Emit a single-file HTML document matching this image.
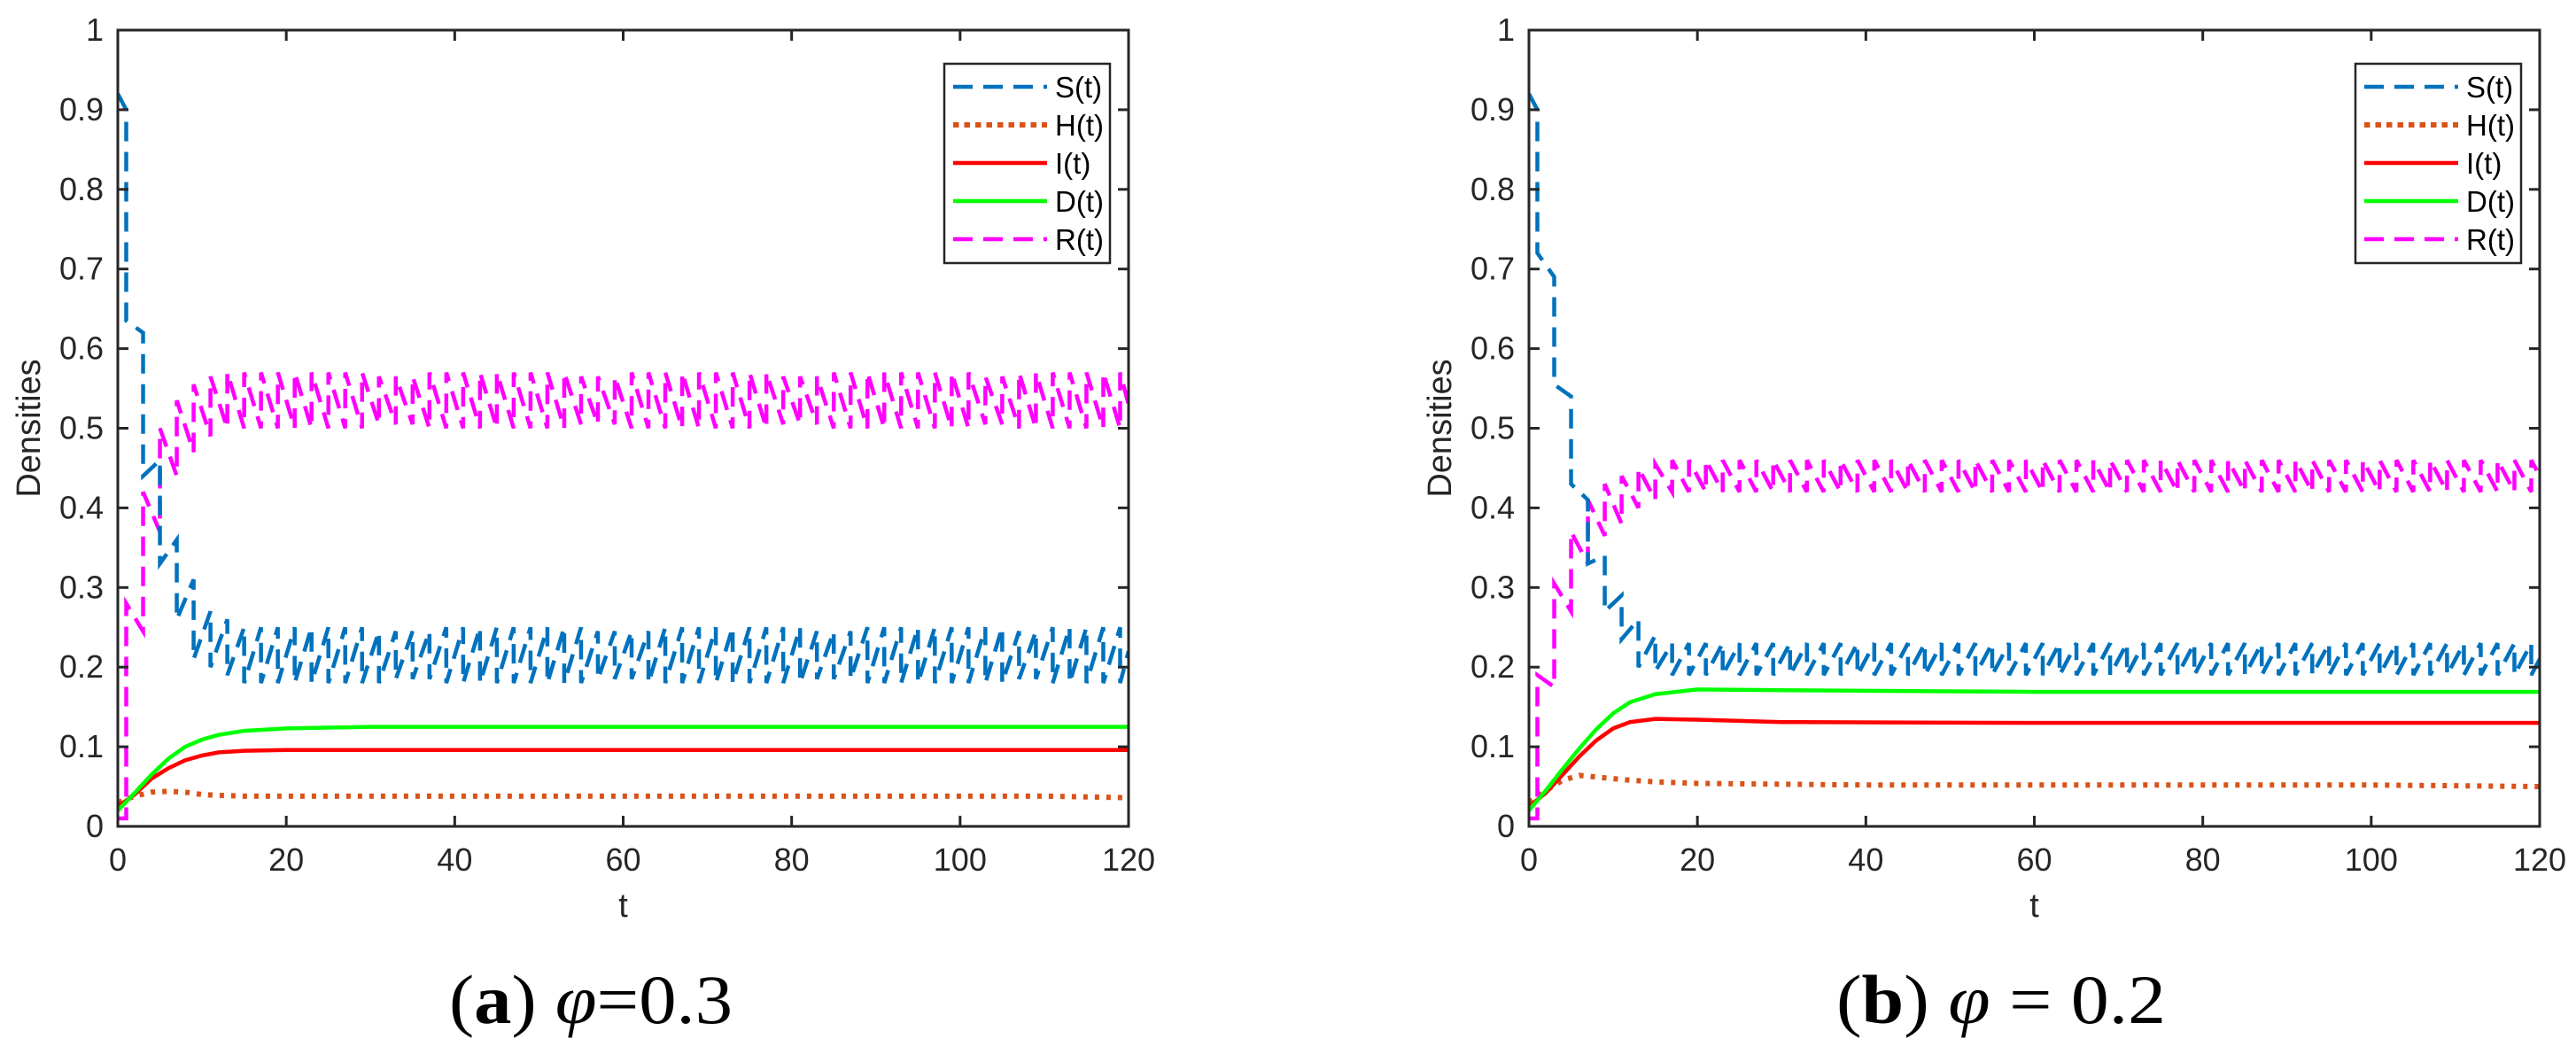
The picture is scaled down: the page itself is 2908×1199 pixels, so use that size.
<!DOCTYPE html>
<html><head><meta charset="utf-8"><style>
html,body{margin:0;padding:0;background:#fff;}
svg{display:block;}
</style></head><body>
<svg id="fig" xmlns="http://www.w3.org/2000/svg" width="2908" height="1199" viewBox="0 0 2908 1199">
<rect x="0" y="0" width="2908" height="1199" fill="#fff"/>
<g id="plotA"></g>
<g id="plotB"></g>
<text x="507" y="1155" font-family="Liberation Serif, serif" font-size="78" textLength="320" lengthAdjust="spacingAndGlyphs" fill="#000">(<tspan font-weight="bold">a</tspan>) <tspan font-style="italic">φ</tspan>=0.3</text>
<text x="2073" y="1155" font-family="Liberation Serif, serif" font-size="78" textLength="372" lengthAdjust="spacingAndGlyphs" fill="#000">(<tspan font-weight="bold">b</tspan>) <tspan font-style="italic">φ</tspan> = 0.2</text>
</svg>
<script>
// ---- shared ----
const impT = [1,3,5,7,9,11,13,15,17,19,21,23,25,27,29,31,33,35,37,39,41,43,45,47,49,51,53,55,57,59,61,63,65,67,69,71,73,75,77,79,81,83,85,87,89,91,93,95,97,99,101,103,105,107,109,111,113,115,117,119];
const xTicks = [0,20,40,60,80,100,120];
const yTicks = [0,0.1,0.2,0.3,0.4,0.5,0.6,0.7,0.8,0.9,1];
const yTickLabels = ["0","0.1","0.2","0.3","0.4","0.5","0.6","0.7","0.8","0.9","1"];
const legendLabels = ["S(t)","H(t)","I(t)","D(t)","R(t)"];

// ---- plot A (phi = 0.3) ----
const aS0 = 0.92, aSEnd = 0.22;
const aSPre = [0.90,0.62,0.46,0.36,0.31,0.27,0.26,0.25,0.25,0.25,
0.25,0.25,0.25,0.25,0.25,0.245,0.245,0.245,0.245,0.25,
0.25,0.25,0.25,0.25,0.25,0.25,0.25,0.25,0.245,0.245,
0.245,0.245,0.25,0.25,0.25,0.25,0.25,0.25,0.25,0.25,
0.25,0.245,0.245,0.245,0.25,0.25,0.25,0.25,0.25,0.25,
0.25,0.25,0.25,0.245,0.245,0.25,0.25,0.25,0.25,0.25];
const aSPost = [0.635,0.44,0.33,0.26,0.21,0.20,0.19,0.18,0.18,0.18,
0.18,0.18,0.18,0.18,0.18,0.18,0.185,0.185,0.185,0.18,
0.18,0.18,0.18,0.18,0.18,0.18,0.18,0.18,0.185,0.185,
0.185,0.18,0.18,0.18,0.18,0.18,0.18,0.18,0.18,0.18,
0.18,0.185,0.185,0.185,0.18,0.18,0.18,0.18,0.18,0.18,
0.18,0.18,0.18,0.185,0.185,0.18,0.18,0.18,0.18,0.18];
const aR0 = 0.01, aREnd = 0.53;
const aRPre = [0.01,0.245,0.37,0.44,0.47,0.49,0.50,0.50,0.50,0.50,
0.50,0.50,0.50,0.50,0.50,0.505,0.505,0.505,0.50,0.50,
0.50,0.50,0.50,0.50,0.50,0.50,0.50,0.505,0.505,0.505,
0.50,0.50,0.50,0.50,0.50,0.50,0.50,0.50,0.50,0.505,
0.505,0.505,0.50,0.50,0.50,0.50,0.50,0.50,0.50,0.50,
0.50,0.505,0.505,0.50,0.50,0.50,0.50,0.50,0.50,0.50];
const aRPost = [0.28,0.42,0.50,0.535,0.555,0.565,0.57,0.57,0.57,0.57,
0.57,0.57,0.57,0.57,0.57,0.565,0.565,0.565,0.57,0.57,
0.57,0.57,0.57,0.57,0.57,0.57,0.57,0.565,0.565,0.565,
0.57,0.57,0.57,0.57,0.57,0.57,0.57,0.57,0.57,0.565,
0.565,0.565,0.57,0.57,0.57,0.57,0.57,0.57,0.57,0.57,
0.57,0.565,0.565,0.57,0.57,0.57,0.57,0.57,0.57,0.57];
const aHT = [0,2,4,6,8,10,12,15,20,30,40,50,60,70,80,90,100,110,120];
const aHV = [0.030,0.038,0.043,0.044,0.043,0.040,0.039,0.038,0.038,0.038,0.038,0.038,0.038,0.038,0.038,0.038,0.038,0.038,0.036];
const aIT = [0,2,4,6,8,10,12,15,20,30,60,120];
const aIV = [0.025,0.040,0.060,0.073,0.083,0.089,0.093,0.095,0.096,0.096,0.096,0.096];
const aDT = [0,2,4,6,8,10,12,15,20,30,60,120];
const aDV = [0.020,0.042,0.065,0.085,0.100,0.109,0.115,0.120,0.123,0.125,0.125,0.125];

// ---- plot B (phi = 0.2) ----
const bS0 = 0.92, bSEnd = 0.21;
const bSPre = [0.90,0.69,0.54,0.41,0.34,0.29,0.26,0.24,0.23,0.23,
0.23,0.23,0.23,0.23,0.23,0.23,0.23,0.23,0.23,0.23,
0.23,0.23,0.23,0.23,0.23,0.23,0.23,0.23,0.23,0.23,
0.23,0.23,0.23,0.23,0.23,0.23,0.23,0.23,0.23,0.23,
0.23,0.23,0.23,0.23,0.23,0.23,0.23,0.23,0.23,0.23,
0.23,0.23,0.23,0.23,0.23,0.23,0.23,0.23,0.23,0.23];
const bSPost = [0.72,0.555,0.43,0.33,0.27,0.235,0.20,0.195,0.19,0.19,
0.19,0.19,0.19,0.19,0.19,0.19,0.19,0.19,0.19,0.19,
0.19,0.19,0.19,0.19,0.19,0.19,0.19,0.19,0.19,0.19,
0.19,0.19,0.19,0.19,0.19,0.19,0.19,0.19,0.19,0.19,
0.19,0.19,0.19,0.19,0.19,0.19,0.19,0.19,0.19,0.19,
0.19,0.19,0.19,0.19,0.19,0.19,0.19,0.19,0.19,0.19];
const bR0 = 0.01, bREnd = 0.44;
const bRPre = [0.01,0.175,0.27,0.33,0.365,0.38,0.40,0.41,0.42,0.42,
0.42,0.42,0.42,0.42,0.42,0.42,0.42,0.42,0.42,0.42,
0.42,0.42,0.42,0.42,0.42,0.42,0.42,0.42,0.42,0.42,
0.42,0.42,0.42,0.42,0.42,0.42,0.42,0.42,0.42,0.42,
0.42,0.42,0.42,0.42,0.42,0.42,0.42,0.42,0.42,0.42,
0.42,0.42,0.42,0.42,0.42,0.42,0.42,0.42,0.42,0.42];
const bRPost = [0.19,0.305,0.37,0.41,0.43,0.44,0.45,0.455,0.46,0.46,
0.46,0.46,0.46,0.46,0.46,0.46,0.46,0.46,0.46,0.46,
0.46,0.46,0.46,0.46,0.46,0.46,0.46,0.46,0.46,0.46,
0.46,0.46,0.46,0.46,0.46,0.46,0.46,0.46,0.46,0.46,
0.46,0.46,0.46,0.46,0.46,0.46,0.46,0.46,0.46,0.46,
0.46,0.46,0.46,0.46,0.46,0.46,0.46,0.46,0.46,0.46];
const bHT = [0,2,4,6,8,10,12,15,20,30,40,60,80,100,120];
const bHV = [0.030,0.045,0.058,0.064,0.062,0.060,0.058,0.056,0.054,0.053,0.052,0.052,0.052,0.052,0.050];
const bIT = [0,2,4,6,8,10,12,15,20,30,60,120];
const bIV = [0.025,0.042,0.065,0.088,0.108,0.123,0.131,0.135,0.134,0.131,0.130,0.130];
const bDT = [0,2,4,6,8,10,12,15,20,30,60,120];
const bDV = [0.020,0.045,0.072,0.098,0.122,0.142,0.156,0.166,0.172,0.171,0.169,0.169];

const NS = "http://www.w3.org/2000/svg";
function mk(tag, attrs, parent){
  const e = document.createElementNS(NS, tag);
  for (const k in attrs) e.setAttribute(k, attrs[k]);
  parent.appendChild(e);
  return e;
}

function impulsePath(sx, sy, v0, pre, post, vEnd){
  let d = "M" + sx(0) + "," + sy(v0);
  for (let i = 0; i < impT.length; i++){
    d += " L" + sx(impT[i]) + "," + sy(pre[i]);
    d += " L" + sx(impT[i]) + "," + sy(post[i]);
  }
  d += " L" + sx(120) + "," + sy(vEnd);
  return d;
}
function linePath(sx, sy, ts, vs){
  let d = "";
  for (let i = 0; i < ts.length; i++) d += (i ? " L" : "M") + sx(ts[i]) + "," + sy(vs[i]);
  return d;
}

const COL = {S:"#0072BD", H:"#D95319", I:"#FF0000", D:"#00FF00", R:"#FF00FF"};

function drawPlot(g, x0, d){
  const x1 = x0 + 1141, yTop = 34, yBot = 933;
  const sx = t => x0 + (t / 120) * (x1 - x0);
  const sy = v => yBot - v * (yBot - yTop);
  const font = "Liberation Sans, sans-serif";

  const clipId = "clip" + x0;
  const defs = mk("defs", {}, g);
  const cp = mk("clipPath", {id: clipId}, defs);
  mk("rect", {x: x0, y: yTop, width: x1 - x0, height: yBot - yTop}, cp);

  const series = mk("g", {"clip-path": "url(#" + clipId + ")"}, g);
  let p;
  p = mk("path", {d: linePath(sx, sy, d.hT, d.hV), fill:"none", stroke: COL.H, "stroke-width": 6, "stroke-dasharray": "5 8"}, series);
  
  
  p = mk("path", {d: linePath(sx, sy, d.iT, d.iV), fill:"none", stroke: COL.I, "stroke-width": 4.5}, series);
  
  
  p = mk("path", {d: linePath(sx, sy, d.dT, d.dV), fill:"none", stroke: COL.D, "stroke-width": 4.5}, series);
  
  
  p = mk("path", {d: impulsePath(sx, sy, d.r0, d.rPre, d.rPost, d.rEnd), fill:"none", stroke: COL.R, "stroke-width": 4.5, "stroke-dasharray": "22 12"}, series);
  
  
  p = mk("path", {d: impulsePath(sx, sy, d.s0, d.sPre, d.sPost, d.sEnd), fill:"none", stroke: COL.S, "stroke-width": 4.5, "stroke-dasharray": "22 12"}, series);
  
  

  // axes box
  const box = mk("rect", {x: x0, y: yTop, width: x1 - x0, height: yBot - yTop, fill:"none", stroke:"#262626", "stroke-width": 3}, g);
  
  

  // ticks + labels
  xTicks.forEach(t => {
    const x = sx(t);
    mk("line", {x1:x, y1:yBot, x2:x, y2:yBot-12, stroke:"#262626", "stroke-width":3}, g);
    mk("line", {x1:x, y1:yTop, x2:x, y2:yTop+12, stroke:"#262626", "stroke-width":3}, g);
    const tl = mk("text", {x:x, y:983, "text-anchor":"middle", "font-family":font, "font-size":36, fill:"#262626"}, g);
    tl.textContent = String(t);
    
    
  });
  yTicks.forEach((v, i) => {
    const y = sy(v);
    mk("line", {x1:x0, y1:y, x2:x0+12, y2:y, stroke:"#262626", "stroke-width":3}, g);
    mk("line", {x1:x1, y1:y, x2:x1-12, y2:y, stroke:"#262626", "stroke-width":3}, g);
    const tl = mk("text", {x:x0-16, y:y+12, "text-anchor":"end", "font-family":font, "font-size":36, fill:"#262626"}, g);
    tl.textContent = yTickLabels[i];
    
    
  });

  const xt = mk("text", {x:(x0+x1)/2, y:1035, "text-anchor":"middle", "font-family":font, "font-size":38, fill:"#262626"}, g);
  xt.textContent = "t";
  
  
  const yt = mk("text", {x:0, y:0, "text-anchor":"middle", "font-family":font, "font-size":38, fill:"#262626", transform:"translate(" + (x0-88) + "," + ((yTop+yBot)/2) + ") rotate(-90)"}, g);
  yt.textContent = "Densities";
  
  

  // legend
  const lx = x1 - 208, ly = 72;
  const lg = mk("g", {}, g);
  
  
  mk("rect", {x:lx, y:ly, width:187, height:225, fill:"#fff", stroke:"#262626", "stroke-width":2.5}, lg);
  const styles = [
    {c:COL.S, dash:"22 12", w:4.5},
    {c:COL.H, dash:"6.5 6", w:6},
    {c:COL.I, dash:"", w:4.5},
    {c:COL.D, dash:"", w:4.5},
    {c:COL.R, dash:"22 12", w:4.5}
  ];
  legendLabels.forEach((lab, i) => {
    const y = ly + 26 + i * 43;
    const entry = mk("g", {}, lg);
    
    
    const a = {x1:lx+10, y1:y, x2:lx+116, y2:y, stroke:styles[i].c, "stroke-width":styles[i].w};
    if (styles[i].dash) a["stroke-dasharray"] = styles[i].dash;
    mk("line", a, entry);
    const t = mk("text", {x:lx+125, y:y+12, "font-family":font, "font-size":33, fill:"#000"}, entry);
    t.textContent = lab;
  });
}

drawPlot(document.getElementById("plotA"), 133, {
  s0:aS0, sPre:aSPre, sPost:aSPost, sEnd:aSEnd,
  r0:aR0, rPre:aRPre, rPost:aRPost, rEnd:aREnd,
  hT:aHT, hV:aHV, iT:aIT, iV:aIV, dT:aDT, dV:aDV
});
drawPlot(document.getElementById("plotB"), 1726, {
  s0:bS0, sPre:bSPre, sPost:bSPost, sEnd:bSEnd,
  r0:bR0, rPre:bRPre, rPost:bRPost, rEnd:bREnd,
  hT:bHT, hV:bHV, iT:bIT, iV:bIV, dT:bDT, dV:bDV
});
</script>
</body></html>
